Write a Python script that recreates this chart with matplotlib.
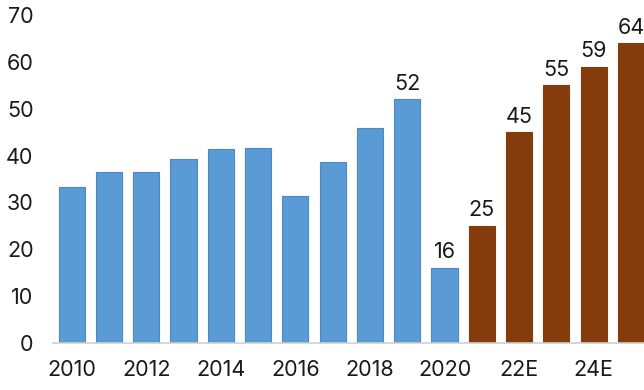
import matplotlib.pyplot as plt

years = ["2010", "2011", "2012", "2013", "2014", "2015", "2016", "2017",
         "2018", "2019", "2020", "2021", "22E", "23E", "24E", "25E"]
values = [33.3, 36.4, 36.4, 39.2, 41.4, 41.6, 31.3, 38.7,
          45.8, 52, 16, 25, 45, 55, 59, 64]
n_actual = 11  # 2010-2020 are actuals, the rest is forecast
labelled = ["2019", "2020", "2021", "22E", "23E", "24E", "25E"]

plt.rcParams['font.family'] = ['Inter', 'DejaVu Sans']
txt = '#1a1a1a'
fs = 15.5

fig = plt.figure(figsize=(6.44, 3.90), dpi=100)
ax = fig.add_axes([53 / 644, 47 / 390, 591 / 644, 328 / 390])

x = list(range(len(years)))
for i, v in enumerate(values):
    if i < n_actual:
        ax.bar(i, v, width=0.7, color='#5B9BD5', edgecolor='#4A89C8', linewidth=0.8)
    else:
        ax.bar(i, v, width=0.7, color='#843C0C', edgecolor='#843C0C', linewidth=0.8)
    if years[i] in labelled:
        ax.annotate(f"{v:.0f}", (i, v), xytext=(0, 4), textcoords='offset points',
                    ha='center', va='bottom', fontsize=fs, color=txt,
                    annotation_clip=False)

ax.set_xlim(-0.5, 15.35)
ax.set_ylim(0, 70)
ax.set_yticks(range(0, 71, 10))
ax.set_xticks(x[::2])
ax.set_xticklabels(years[::2])
ax.tick_params(axis='both', length=0, labelsize=fs, colors=txt)
ax.tick_params(axis='y', pad=14)
ax.tick_params(axis='x', pad=12)

for s in ['top', 'right', 'left']:
    ax.spines[s].set_visible(False)
ax.spines['bottom'].set_color('#d0d0d0')
ax.spines['bottom'].set_linewidth(1.2)

fig.savefig('out.png', dpi=100)
